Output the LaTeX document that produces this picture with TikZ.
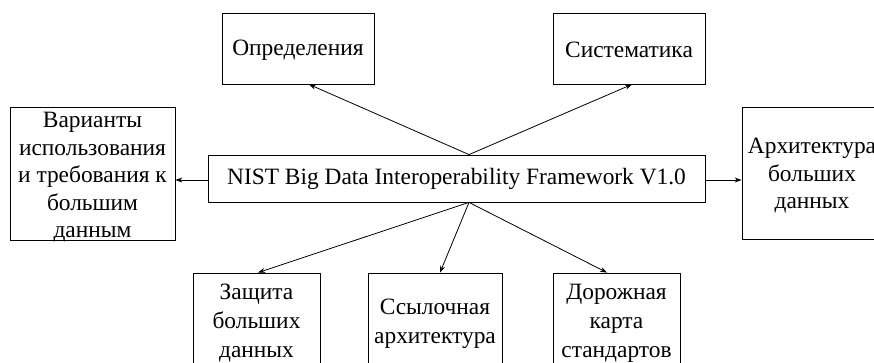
\documentclass[tikz,border=0pt]{standalone}
\usepackage{fontspec}
\setmainfont{Liberation Serif}
\usetikzlibrary{arrows.meta}
\begin{document}
\begin{tikzpicture}[x=1pt,y=-1pt,
  box/.style={draw,line width=0.8pt,rectangle,inner sep=0pt},
  txt/.style={align=center,font=\fontsize{23.4}{29}\selectfont},
  txtb/.style={align=center,font=\fontsize{23.4}{27.5}\selectfont},
  arr/.style={line width=0.8pt,-{Stealth[length=7pt,width=5pt]}}]
\useasboundingbox (0,0) rectangle (874,363);
\node[box,minimum width=497pt,minimum height=47pt,txt] (c) at (456.5,178.5) {NIST Big Data Interoperability Framework V1.0};
\node[box,minimum width=152pt,minimum height=71pt,label={[txt,yshift=-2pt]center:Определения}] (def) at (298,48.5) {};
\node[box,minimum width=152pt,minimum height=71pt,label={[txt,yshift=-1pt]center:Систематика}] (sys) at (629,48.5) {};
\node[box,minimum width=165pt,minimum height=133pt,label={[txtb,yshift=-4pt]center:Варианты\\использования\\и требования к\\большим\\данным}] (uc) at (92.5,173.5) {};
\node[box,minimum width=140pt,minimum height=132pt,label={[txtb,yshift=-3pt]center:Архитектура\\больших\\данных}] (arch) at (812,173) {};
\node[box,minimum width=127pt,minimum height=99pt,label={[txt,yshift=-1pt]center:Защита\\больших\\данных}] (sec) at (256.5,322.5) {};
\node[box,minimum width=134pt,minimum height=99pt,label={[txt,yshift=-1pt]center:Ссылочная\\архитектура}] (ref) at (435,322.5) {};
\node[box,minimum width=127pt,minimum height=99pt,label={[txt,yshift=-1pt]center:Дорожная\\карта\\стандартов}] (road) at (616.5,322.5) {};
\draw[arr] ([xshift=12.5pt]c.north) -- ([xshift=11pt]def.south);
\draw[arr] ([xshift=12.5pt]c.north) -- ([xshift=3pt]sys.south);
\draw[arr] ([yshift=-1.5pt]c.west) -- ([yshift=-1.5pt]c.west -| uc.east);
\draw[arr] ([yshift=-1.5pt]c.east) -- ([yshift=-1.5pt]c.east -| arch.west);
\draw[arr] ([xshift=12.5pt]c.south) -- ([xshift=1.5pt]sec.north);
\draw[arr] ([xshift=12.5pt]c.south) -- ([xshift=5pt]ref.north);
\draw[arr] ([xshift=12.5pt]c.south) -- ([xshift=-9.5pt]road.north);
\end{tikzpicture}
\end{document}
